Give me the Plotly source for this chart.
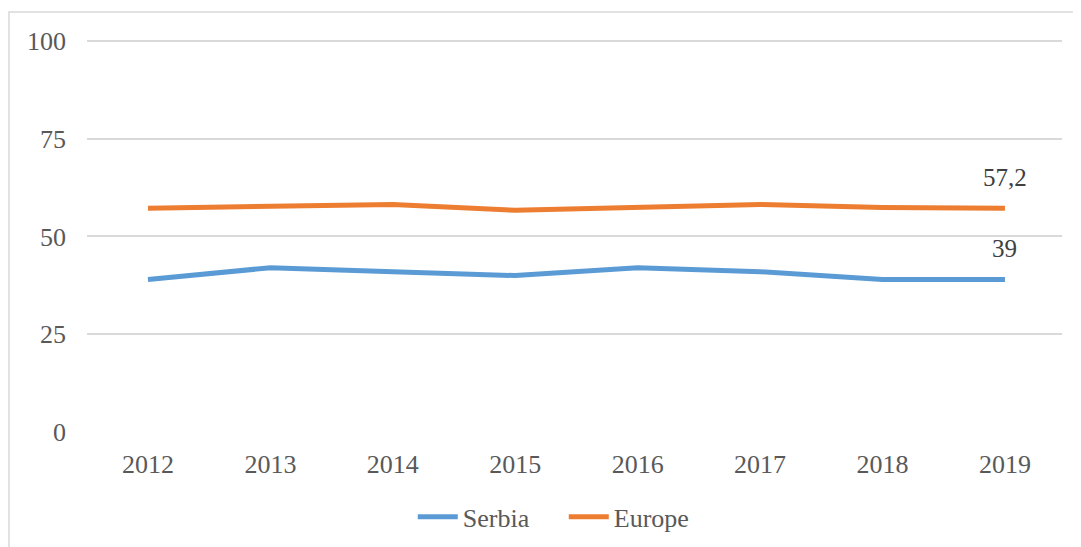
import plotly.graph_objects as go

years = ["2012", "2013", "2014", "2015", "2016", "2017", "2018", "2019"]
serbia = [39, 42, 41, 40, 42, 41, 39, 39]
europe = [57.2, 57.7, 58.2, 56.7, 57.4, 58.2, 57.4, 57.2]
label_serbia = "39"
label_europe = "57,2"

_FONT = "Liberation Serif"
_TEXT = "#595959"
_GRID = "#D9D9D9"

# the page body has an 8px default margin, so the figure is 8px smaller/shifted
fig = go.Figure()
for name, vals, color in (("Serbia", serbia, "#5B9BD5"), ("Europe", europe, "#ED7D31")):
    fig.add_trace(go.Scatter(
        x=years, y=vals, mode="lines", name=name,
        line=dict(color=color, width=5),
    ))

# value labels above the last point of each series
last = len(years) - 1
for vals, text in ((europe, label_europe), (serbia, label_serbia)):
    fig.add_annotation(x=last, y=vals[-1], text=text, showarrow=False,
                       yshift=31, font=dict(family=_FONT, size=25, color="#404040"))

# outer chart-area border (cut off on right and bottom like the source)
fig.add_shape(type="rect", xref="paper", yref="paper",
              x0=-0.08, x1=1.1, y0=-0.4, y1=(424 - 4) / 395,
              line=dict(color="#D9D9D9", width=1.5), fillcolor="rgba(0,0,0,0)")

fig.update_xaxes(
    type="category", range=[-0.498, 7.466], showgrid=False, showline=False,
    ticks="", tickfont=dict(family=_FONT, size=26, color=_TEXT),
    ticklabelstandoff=14,
)
fig.update_yaxes(
    range=[0, 101], tickvals=[0, 25, 50, 75, 100], showgrid=True,
    gridcolor=_GRID, gridwidth=1.5, zeroline=False, showline=False,
    tickfont=dict(family=_FONT, size=26, color=_TEXT), ticklabelstandoff=20,
)
fig.update_layout(
    width=1081, height=547, template="plotly_white",
    plot_bgcolor="white", paper_bgcolor="white",
    margin=dict(l=79, r=27, t=29, b=123),
    showlegend=True,
    legend=dict(orientation="h", x=0.489, xanchor="center", y=-0.215, yanchor="middle",
                font=dict(family=_FONT, size=26, color=_TEXT), itemwidth=40,
                entrywidth=96, tracegroupgap=0),
)
fig.write_html("out.html")
